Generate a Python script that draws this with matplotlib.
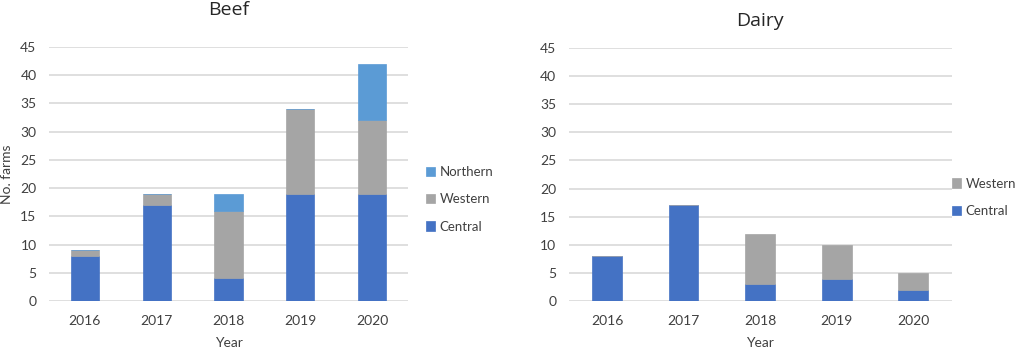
import numpy as np
import matplotlib
matplotlib.use("Agg")
import matplotlib.pyplot as plt

plt.rcParams['font.family'] = ['Lato', 'DejaVu Sans']

years = ["2016", "2017", "2018", "2019", "2020"]

# Beef farms per region
beef_central = [8, 17, 4, 19, 19]
beef_western = [1, 2, 12, 15, 13]
beef_northern = [0, 0, 3, 0, 10]

# Dairy farms per region
dairy_central = [8, 17, 3, 4, 2]
dairy_western = [0, 0, 9, 6, 3]

c_central = "#4472C4"
c_western = "#A5A5A5"
c_northern = "#5B9BD5"
grid_col = "#D9D9D9"
txt = "#404040"

fig = plt.figure(figsize=(10.21, 3.49), dpi=100)
ax1 = fig.add_axes([0.048, 0.1375, 0.3516, 0.7278])
ax2 = fig.add_axes([0.557, 0.1375, 0.375, 0.7249])


def stack(ax, series, w):
    x = np.arange(len(years))
    bottom = np.zeros(len(years))
    handles = []
    for name, vals, col in series:
        vals = np.array(vals, dtype=float)
        h = ax.bar(x, vals, w, bottom=bottom, color=col, label=name,
                   edgecolor=col, linewidth=0.5, zorder=3)
        bottom += vals
        handles.append(h)
    ax.set_xlim(-0.5, len(years) - 0.5)
    ax.set_ylim(0, 45)
    ax.set_yticks(range(0, 46, 5))
    ax.set_xticks(x)
    ax.set_xticklabels(years)
    ax.grid(axis="y", color=grid_col, linewidth=1.2, zorder=0)
    ax.set_axisbelow(True)
    for s in ax.spines.values():
        s.set_visible(False)
    ax.tick_params(length=0, labelsize=10, colors=txt)
    ax.tick_params(axis="y", pad=9)
    ax.tick_params(axis="x", pad=10)
    ax.set_xlabel("Year", fontsize=10, color=txt, labelpad=7)
    return handles


leg_kw = dict(loc="center left", frameon=False, fontsize=9.5, handlelength=0.7,
              handleheight=0.7, handletextpad=0.35, labelspacing=1.15,
              borderaxespad=0, borderpad=0, labelcolor=txt)
title_kw = dict(fontsize=14, color="#262626", family=["Open Sans", "DejaVu Sans"])

h1 = stack(ax1, [("Central", beef_central, c_central),
                 ("Western", beef_western, c_western),
                 ("Northern", beef_northern, c_northern)], 0.39)
ax1.set_title("Beef", pad=23, **title_kw)
ax1.set_ylabel("No. farms", fontsize=10, color=txt, labelpad=5)
ax1.legend(handles=h1[::-1], bbox_to_anchor=(1.05, 0.40), **leg_kw)

h2 = stack(ax2, [("Central", dairy_central, c_central),
                 ("Western", dairy_western, c_western)], 0.39)
ax2.set_title("Dairy", pad=16, **title_kw)
ax2.legend(handles=h2[::-1], bbox_to_anchor=(1.0, 0.41), **leg_kw)

fig.savefig("out.png", dpi=100)
